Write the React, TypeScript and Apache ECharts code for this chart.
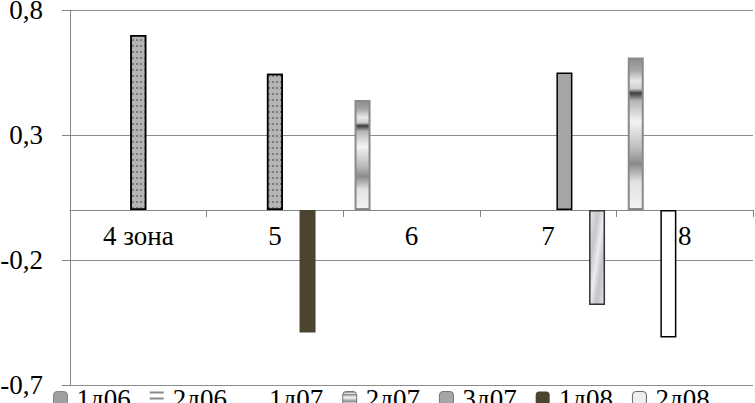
import React, { useEffect, useRef } from "react";
import * as echarts from "echarts";

// Categories (zones) along the x axis
const categories = ["4 зона", "5", "6", "7", "8"];

// Legend order as in the reference
const legendOrder = ["1д06", "2д06", "1д07", "2д07", "3д07", "1д08", "2д08"];

// Series values (null = no bar)
const v2d07 = [null, null, 0.44, null, 0.61];
const v2d06 = [null, null, null, null, null];
const v2d08 = [null, null, null, null, -0.51];
const v1d06 = [0.7, 0.545, null, null, null];
const v3d07 = [null, null, null, 0.55, null];
const v1d08 = [null, -0.49, null, null, null];
const v1d07 = [null, null, null, -0.38, null];

// Y axis range / tick step
const yMin = -0.7;
const yMax = 0.8;
const yStep = 0.5;

const FONT = "Liberation Serif";

export default function App() {
  const ref = useRef<HTMLDivElement>(null);

  useEffect(() => {
    if (!ref.current) return;
    const chart = echarts.init(ref.current, undefined, { renderer: "svg" });

    const gradient2d07 = {
      type: "linear",
      x: 0,
      y: 0,
      x2: 0,
      y2: 1,
      colorStops: [
        { offset: 0, color: "#8c8c8c" },
        { offset: 0.08, color: "#a8a8a8" },
        { offset: 0.15, color: "#e8e8e8" },
        { offset: 0.2, color: "#cfcfcf" },
        { offset: 0.23, color: "#3c3c3c" },
        { offset: 0.28, color: "#b4b4b4" },
        { offset: 0.42, color: "#f4f4f4" },
        { offset: 0.6, color: "#bcbcbc" },
        { offset: 0.7, color: "#8a8a8a" },
        { offset: 0.82, color: "#e2e2e2" },
        { offset: 1, color: "#f2f2f2" },
      ],
    };

    const marble = {
      type: "linear",
      x: 0,
      y: 0,
      x2: 1,
      y2: 1,
      colorStops: [
        { offset: 0, color: "#e4e4e8" },
        { offset: 0.3, color: "#c8c8cc" },
        { offset: 0.5, color: "#ececf0" },
        { offset: 0.7, color: "#c4c4c8" },
        { offset: 1, color: "#e0e0e4" },
      ],
    };

    const speckle = {
      color: "rgba(45,45,45,0.65)",
      symbol: "circle",
      symbolSize: 0.8,
      dashArrayX: [
        [2, 2],
        [1, 3],
      ],
      dashArrayY: [2, 1],
      rotation: 0,
    };

    const bar = (name: string, data: (number | null)[], itemStyle: any) => ({
      name,
      type: "bar",
      data,
      barWidth: 16,
      barGap: "2%",
      itemStyle,
      emphasis: { disabled: true },
    });

    const series = [
      bar("2д07", v2d07, { color: gradient2d07, borderColor: "#8a8a8a", borderWidth: 2 }),
      bar("2д06", v2d06, { color: "#9a9a9a" }),
      bar("2д08", v2d08, { color: "#ffffff", borderColor: "#000", borderWidth: 1.5 }),
      bar("1д06", v1d06, { color: "#b4b4b4", borderColor: "#000", borderWidth: 1.5, decal: speckle }),
      bar("3д07", v3d07, { color: "#a6a6a6", borderColor: "#000", borderWidth: 1.5 }),
      bar("1д08", v1d08, { color: "#4b4430" }),
      bar("1д07", v1d07, { color: marble, borderColor: "#333", borderWidth: 1.5 }),
    ];

    const legendStyles: Record<string, any> = {
      "1д06": { itemStyle: { color: "#a0a0a0", borderColor: "#888", borderWidth: 1, decal: "none" } },
      "2д06": {
        icon: "path://M0,0H10V1.4H0Z M0,4.3H10V5.7H0Z M0,8.6H10V10H0Z",
        itemStyle: { color: "#8a8a8a", borderWidth: 0 },
      },
      "1д07": { itemStyle: { color: "#ffffff", borderWidth: 0 } },
      "2д07": { itemStyle: { color: gradient2d07, borderColor: "#777", borderWidth: 1 } },
      "3д07": { itemStyle: { color: "#a6a6a6", borderColor: "#777", borderWidth: 1 } },
      "1д08": { itemStyle: { color: "#4b4430", borderWidth: 0 } },
      "2д08": { itemStyle: { color: "#eeeeee", borderColor: "#666", borderWidth: 1 } },
    };

    chart.setOption({
      animation: false,
      backgroundColor: "#ffffff",
      textStyle: { fontFamily: FONT, fontSize: 27, color: "#000" },
      grid: {
        left: 70,
        right: 2,
        top: 10,
        bottom: 18,
        containLabel: false,
        outerBoundsMode: "none",
      },
      legend: {
        data: legendOrder.map((n) => ({ name: n, ...legendStyles[n] })),
        left: 48,
        top: 380,
        itemWidth: 14,
        itemHeight: 14,
        itemGap: 19,
        selectedMode: false,
        textStyle: {
          fontFamily: FONT,
          fontSize: 27,
          color: "#000",
          padding: [0, 0, 0, 4],
        },
      },
      xAxis: {
        type: "category",
        data: categories,
        axisLine: { onZero: true, lineStyle: { color: "#868686", width: 1 } },
        axisTick: { show: true, length: 7, lineStyle: { color: "#868686" } },
        axisLabel: {
          interval: 0,
          margin: -163,
          fontFamily: FONT,
          fontSize: 27,
          color: "#000",
          verticalAlign: "top",
        },
        splitLine: { show: false },
      },
      yAxis: {
        type: "value",
        min: yMin,
        max: yMax,
        interval: yStep,
        axisLine: { show: true, lineStyle: { color: "#868686", width: 1 } },
        axisTick: { show: true, length: 8, lineStyle: { color: "#868686" } },
        axisLabel: {
          margin: 27,
          fontFamily: FONT,
          fontSize: 27,
          color: "#000",
          formatter: (v: number) => v.toFixed(1).replace(".", ","),
        },
        splitLine: { show: true, lineStyle: { color: "#8c8c8c", width: 1 } },
      },
      series,
    });

    return () => chart.dispose();
  }, []);

  return (
    <div
      ref={ref}
      style={{ position: "fixed", left: 0, top: 0, width: 755, height: 403, background: "#fff" }}
    />
  );
}
